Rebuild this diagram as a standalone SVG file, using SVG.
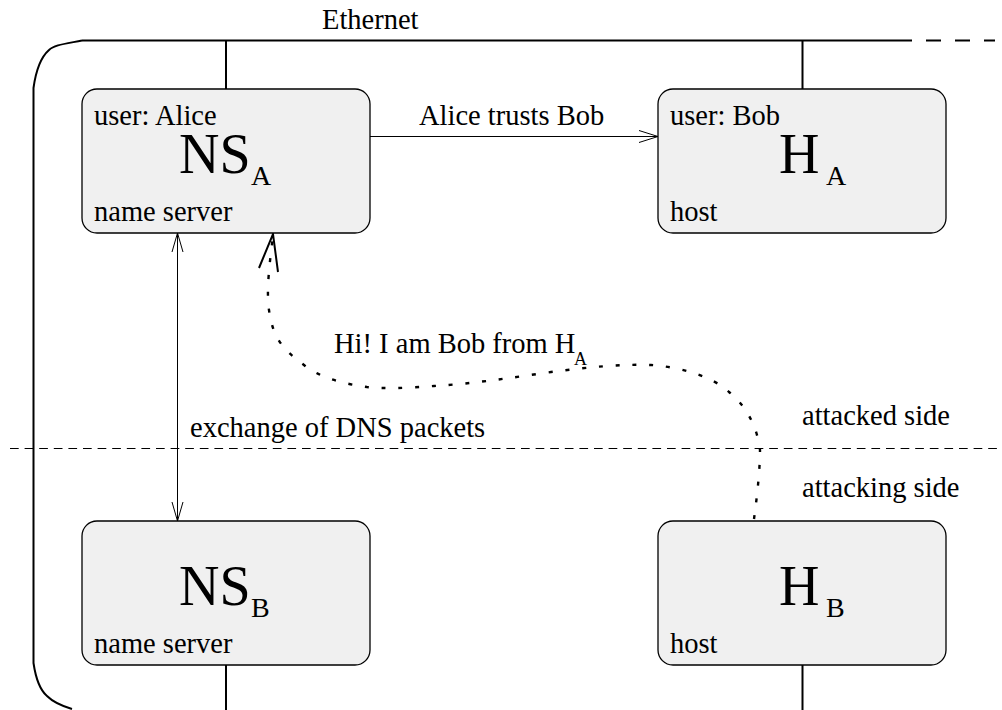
<svg xmlns="http://www.w3.org/2000/svg" width="1002" height="710" viewBox="0 0 1002 710">
<style>
text{font-family:"Liberation Serif","Times New Roman",serif;fill:#000}
.t{font-size:28.500px}
.b{font-size:56px}
.s{font-size:28px}
.m{font-size:18px}
.box{fill:#f0f0f0;stroke:#000;stroke-width:1.300}
.eth{fill:none;stroke:#000;stroke-width:2}
.thin{fill:none;stroke:#000;stroke-width:1}
</style>
<rect width="1002" height="710" fill="#fff"/>
<g id="connectors">
<path class="eth" d="M82 40.500C64 44 54 45 49 50C41 57 36 70 33.500 88L33.500 663C36 680 40 690 47 696C54 703 62 706 72 709"/>
<path class="eth" d="M82 40.500H897"/>
<path class="eth" stroke-dasharray="15 14" d="M897 40.500H995"/>
<path class="eth" d="M226 40V89M802.500 40V89M226 665V710M802.500 665V710"/>
<path class="thin" d="M370 136.500H658M639 130.500L658 136.500L639 142.500"/>
<path class="thin" d="M177.500 233V521M172 252L177.500 233L183 252M172 502L177.500 521L183 502"/>
<path class="thin" stroke-dasharray="8.700 5.900" d="M10 448.500H1000"/>
<path fill="none" stroke="#000" stroke-width="2.400" stroke-dasharray="4 12.800" d="M754 519C757 497 760 470 760 450C757 425 745 405 729 392C712 376 680 367 651 365C620 364 590 367 551 372C510 378 470 384 434 386C405 388 385 389 367 387C345 384 320 378 304 365C285 351 273 340 269 310C266 290 270 260 273 236"/>
<path fill="none" stroke="#000" stroke-width="2" d="M259 268L273 234L278 272"/>
</g>
<g id="ns-a">
<rect class="box" x="82" y="89" width="288" height="144" rx="15"/>
<text class="t" x="94" y="125">user: Alice</text>
<text class="b" x="179" y="173">NS</text>
<text class="s" x="251" y="185">A</text>
<text class="t" x="94" y="221">name server</text>
</g>
<g id="h-a">
<rect class="box" x="658" y="89" width="288" height="144" rx="15"/>
<text class="t" x="670" y="125">user: Bob</text>
<text class="b" x="779" y="173">H</text>
<text class="s" x="826" y="185">A</text>
<text class="t" x="670" y="221">host</text>
</g>
<g id="ns-b">
<rect class="box" x="82" y="521" width="288" height="144" rx="15"/>
<text class="b" x="179" y="605">NS</text>
<text class="s" x="251" y="617">B</text>
<text class="t" x="94" y="653">name server</text>
</g>
<g id="h-b">
<rect class="box" x="658" y="521" width="288" height="144" rx="15"/>
<text class="b" x="779" y="605">H</text>
<text class="s" x="826" y="617">B</text>
<text class="t" x="670" y="653">host</text>
</g>
<g id="labels">
<text class="t" x="322" y="29">Ethernet</text>
<text class="t" x="419" y="125">Alice trusts Bob</text>
<text class="t" x="334" y="353">Hi! I am Bob from H</text>
<text class="m" x="574" y="365">A</text>
<text class="t" x="190" y="437">exchange of DNS packets</text>
<text class="t" x="802" y="425">attacked side</text>
<text class="t" x="802" y="497">attacking side</text>
</g>
</svg>
